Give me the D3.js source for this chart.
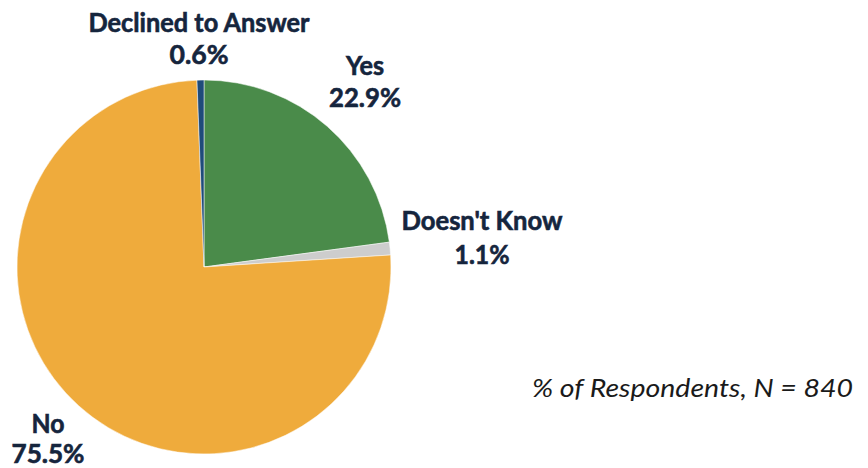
<!DOCTYPE html>
<html>
<head>
<meta charset="utf-8">
<script src="https://cdn.jsdelivr.net/npm/d3@7"></script>
<style>
  html, body { margin: 0; padding: 0; background: #fff; }
  svg { display: block; }
</style>
</head>
<body>
<svg id="chart" width="868" height="468"></svg>
<script>
// Survey responses, clockwise from 12 o'clock
const categories = ["Yes", "Doesn't Know", "No", "Declined to Answer"];
const values = [22.9, 1.1, 75.5, 0.6];
const valueLabels = ["22.9%", "1.1%", "75.5%", "0.6%"];
const note = "% of Respondents, N = 840";

const colors = d3.scaleOrdinal()
  .domain(categories)
  .range(["#4a8b4a", "#cdcdcd", "#efab3c", "#1f4b7a"]);

const svg = d3.select("#chart");
const cx = 204, cy = 267, r = 187;

const pie = d3.pie().sort(null).value(d => d.value);
const arc = d3.arc().innerRadius(0).outerRadius(r);
const data = categories.map((c, i) => ({ name: c, value: values[i], label: valueLabels[i] }));

const g = svg.append("g").attr("transform", `translate(${cx},${cy})`);
g.selectAll("path")
  .data(pie(data))
  .join("path")
  .attr("d", arc)
  .attr("fill", d => colors(d.data.name))
  .attr("stroke", "#fff")
  .attr("stroke-width", 0.5);

// Label placement (name line baseline, value line baseline, centre x, widths)
const labelLayout = {
  "Yes":                { x: 365, y1: 75,  y2: 107, w1: 38,  w2: 72 },
  "Doesn't Know":       { x: 482, y1: 230, y2: 264, w1: 161, w2: 55 },
  "No":                 { x: 48,  y1: 433, y2: 463, w1: 33,  w2: 73 },
  "Declined to Answer": { x: 199, y1: 32,  y2: 64,  w1: 221, w2: 59 }
};

const textColor = "#15253d";
const labels = svg.append("g")
  .attr("font-family", "Lato, 'Open Sans', sans-serif")
  .attr("font-weight", 700)
  .attr("font-size", 26)
  .attr("fill", textColor)
  .attr("stroke", textColor)
  .attr("stroke-width", 0.6)
  .attr("text-anchor", "middle");

data.forEach(d => {
  const L = labelLayout[d.name];
  labels.append("text")
    .attr("x", L.x).attr("y", L.y1)
    .attr("textLength", L.w1).attr("lengthAdjust", "spacingAndGlyphs")
    .text(d.name);
  labels.append("text")
    .attr("x", L.x).attr("y", L.y2)
    .attr("textLength", L.w2).attr("lengthAdjust", "spacingAndGlyphs")
    .text(d.label);
});

svg.append("text")
  .attr("x", 532).attr("y", 397)
  .attr("font-family", "Lato, 'Open Sans', sans-serif")
  .attr("font-style", "italic")
  .attr("font-size", 26)
  .attr("fill", "#1a1a1a")
  .attr("textLength", 321).attr("lengthAdjust", "spacingAndGlyphs")
  .text(note);
</script>
</body>
</html>
